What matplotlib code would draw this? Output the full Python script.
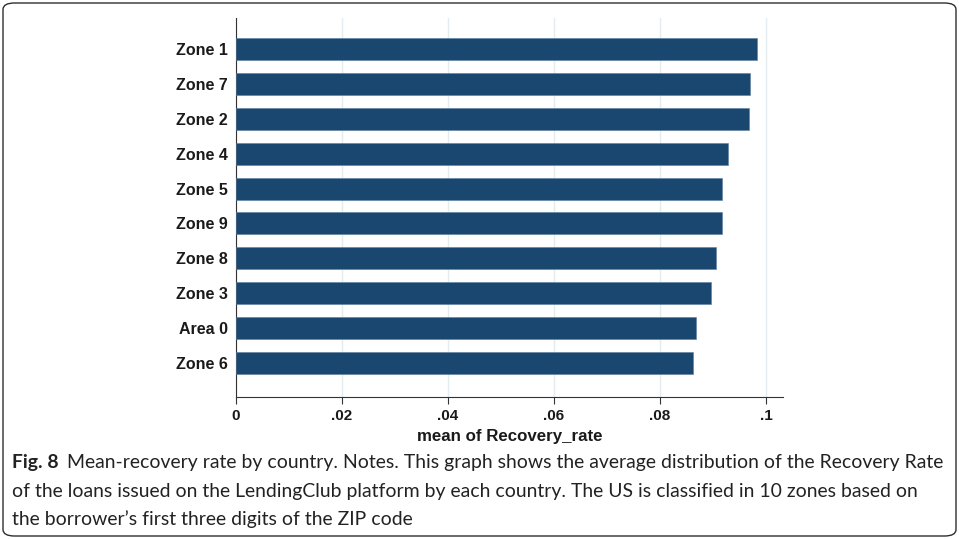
import numpy as np
import matplotlib
matplotlib.use("Agg")
import matplotlib.pyplot as plt
from matplotlib.patches import FancyBboxPatch

# 数据
zones = ["Zone 1", "Zone 7", "Zone 2", "Zone 4", "Zone 5",
         "Zone 9", "Zone 8", "Zone 3", "Area 0", "Zone 6"]
recovery = [0.0983, 0.0970, 0.0968, 0.0928, 0.0917,
            0.0917, 0.0906, 0.0896, 0.0868, 0.0862]
xticks = [0, 0.02, 0.04, 0.06, 0.08, 0.1]
xtick_labels = ["0", ".02", ".04", ".06", ".08", ".1"]

caption_lines = [
    "Mean-recovery rate by country. Notes. This graph shows the average distribution of the Recovery Rate",
    "of the loans issued on the LendingClub platform by each country. The US is classified in 10 zones based on",
    "the borrower\u2019s first three digits of the ZIP code",
]

W, H = 959, 539
fig = plt.figure(figsize=(W / 100, H / 100), dpi=100)
plt.rcParams['font.family'] = ['Liberation Sans', 'DejaVu Sans']

# 外框
frame = FancyBboxPatch((3 / W, 3 / H), (W - 6) / W, (H - 6) / H,
                       boxstyle="round,pad=0,rounding_size=0.012",
                       transform=fig.transFigure, fill=False,
                       edgecolor="#2e2e2e", linewidth=1.0)
fig.patches.append(frame)

# 坐标区
left, right = 236 / W, 783 / W
bottom, top = 1 - 397 / H, 1 - 18 / H
ax = fig.add_axes([left, bottom, right - left, top - bottom])

n = len(zones)
ypos = np.arange(n)[::-1]
ax.barh(ypos, recovery, height=0.63, color="#1a476f",
        edgecolor="#5a7fa0", linewidth=0.4, zorder=3)

ax.set_xlim(0, 0.1032)
ax.set_ylim(-0.975, 9.89)
ax.set_yticks(ypos)
ax.set_yticklabels(zones, fontsize=11.5, fontweight="bold", color="#1a1a1a")
ax.set_xticks(xticks)
ax.set_xticklabels(xtick_labels, fontsize=11, fontweight="bold", color="#1a1a1a")
ax.tick_params(axis="y", length=0, pad=6)
ax.tick_params(axis="x", length=5, width=0.8, color="#333333", pad=4)
ax.grid(axis="x", color="#e3ecef", linewidth=1.0, zorder=0)
ax.spines["top"].set_visible(False)
ax.spines["right"].set_visible(False)
ax.spines["left"].set_color("#333333")
ax.spines["bottom"].set_color("#333333")
ax.set_xlabel("mean of Recovery_rate", fontsize=12.2, fontweight="bold",
              color="#1a1a1a", labelpad=4)

# 图注
cap_font = ['Lato', 'DejaVu Sans']
x0 = 12 / W
baselines = [468, 497, 525]
size = 13.0
renderer = fig.canvas.get_renderer()

fig_lbl = fig.text(x0, 1 - baselines[0] / H, "Fig. 8", family=cap_font,
                   fontweight="bold", fontsize=size, va="baseline", color="#222222")
lbl_w = fig_lbl.get_window_extent(renderer).width
first = fig.text(x0 + (lbl_w + 8) / W, 1 - baselines[0] / H, caption_lines[0],
                 family=cap_font, fontsize=size, va="baseline", color="#222222")
# 按参考图宽度缩放字号
w = first.get_window_extent(renderer).x1 - 12
scale = (940 - 12) / w
size *= scale
fig_lbl.set_fontsize(size)
lbl_w = fig_lbl.get_window_extent(renderer).width
first.set_fontsize(size)
first.set_x(x0 + (lbl_w + 8) / W)

for line, yb in zip(caption_lines[1:], baselines[1:]):
    fig.text(x0, 1 - yb / H, line, family=cap_font, fontsize=size,
             va="baseline", color="#222222")

fig.savefig("out.png", dpi=100)
